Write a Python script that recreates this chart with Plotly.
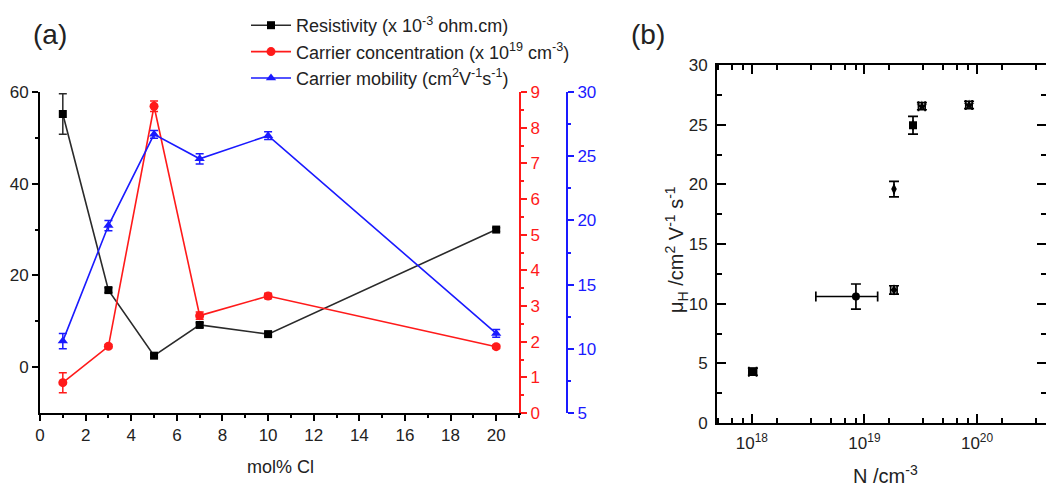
import plotly.graph_objects as go

W, H = 1046, 486

# ---------------- data: panel (a) ----------------
mol_cl = [1, 3, 5, 7, 10, 20]
resistivity = [55.2, 16.8, 2.5, 9.2, 7.2, 30.0]          # x 10^-3 ohm.cm
resistivity_err = [4.4, 0.5, 0.4, 0.5, 0.4, 0.4]
carrier_conc = [0.85, 1.87, 8.6, 2.73, 3.28, 1.86]       # x 10^19 cm^-3
carrier_conc_err = [0.28, 0.05, 0.15, 0.1, 0.08, 0.05]
mobility = [10.6, 19.6, 26.7, 24.8, 26.6, 11.2]          # cm2 V-1 s-1
mobility_err = [0.6, 0.4, 0.3, 0.4, 0.3, 0.3]

# ---------------- data: panel (b) ----------------
n_cm3 = [1.02e18, 8.4e18, 1.83e19, 1.83e19, 2.7e19, 3.24e19, 8.5e19]
n_err = [0.08e18, 4.7e18, 0.12e19, 0.0, 0.0, 0.22e19, 0.55e19]
mu_h = [4.3, 10.6, 11.15, 19.6, 24.95, 26.55, 26.65]
mu_err = [0.3, 1.05, 0.35, 0.65, 0.75, 0.3, 0.3]
b_symbols = ["square", "circle", "diamond-tall", "diamond-tall", "square", "star", "star"]

x_ticks_a = [0, 2, 4, 6, 8, 10, 12, 14, 16, 18, 20]
left_ticks = [0, 20, 40, 60]
b_major = [1e18, 1e19, 1e20]
b_major_text = ["10<sup>18</sup>", "10<sup>19</sup>", "10<sup>20</sup>"]

FONT = "Liberation Sans, Arial, sans-serif"
RED = "#ff1a1a"
BLUE = "#1a1aff"


def px_x(p):
    return p / W


def px_y(p):
    return 1 - p / H


fig = go.Figure()

fig.add_trace(go.Scatter(
    x=mol_cl, y=resistivity, name="Resistivity (x 10<sup>-3</sup> ohm.cm)",
    mode="lines+markers", xaxis="x", yaxis="y",
    line=dict(color="#2a2a2a", width=1.6),
    marker=dict(symbol="square", size=8, color="black"),
    error_y=dict(type="data", array=resistivity_err, color="#2a2a2a", thickness=1.5, width=4),
))
fig.add_trace(go.Scatter(
    x=mol_cl, y=carrier_conc, name="Carrier concentration (x 10<sup>19</sup> cm<sup>-3</sup>)",
    mode="lines+markers", xaxis="x", yaxis="y2",
    line=dict(color=RED, width=1.6),
    marker=dict(symbol="circle", size=9, color=RED),
    error_y=dict(type="data", array=carrier_conc_err, color=RED, thickness=1.5, width=4),
))
fig.add_trace(go.Scatter(
    x=mol_cl, y=mobility, name="Carrier mobility (cm<sup>2</sup>V<sup>-1</sup>s<sup>-1</sup>)",
    mode="lines+markers", xaxis="x", yaxis="y3",
    line=dict(color=BLUE, width=1.6),
    marker=dict(symbol="triangle-up", size=9, color=BLUE),
    error_y=dict(type="data", array=mobility_err, color=BLUE, thickness=1.5, width=4),
))

fig.add_trace(go.Scatter(
    x=n_cm3, y=mu_h, mode="markers", xaxis="x2", yaxis="y4", showlegend=False,
    marker=dict(symbol=b_symbols, size=8, color="black"),
    error_x=dict(type="data", array=n_err, color="black", thickness=1.7, width=5),
    error_y=dict(type="data", array=mu_err, color="black", thickness=1.7, width=5),
))

tickfont = dict(family=FONT, size=17, color="#222")

minor_log = [10 ** d * k * 10 / 6 for d in (17, 18, 19, 20) for k in (1, 2, 3, 4, 5)]


def label(text, x, y, size, angle=0):
    return dict(text=text, x=px_x(x), y=px_y(y), xref="paper", yref="paper",
                xanchor="center", yanchor="middle", textangle=angle,
                showarrow=False, font=dict(family=FONT, size=size, color="#222"))


fig.update_layout(
    template="none",
    width=W, height=H,
    margin=dict(l=0, r=0, t=0, b=0, pad=0, autoexpand=False),
    paper_bgcolor="white", plot_bgcolor="white",
    font=dict(family=FONT, size=17, color="#222"),
    showlegend=True,
    legend=dict(x=px_x(246), y=px_y(7), xanchor="left", yanchor="top",
                font=dict(family=FONT, size=18, color="#222"),
                bgcolor="rgba(0,0,0,0)", borderwidth=0, tracegroupgap=0, itemwidth=40),
    xaxis=dict(
        domain=[px_x(40), px_x(519)], range=[0, 21], anchor="y", automargin=False,
        tickmode="array", tickvals=x_ticks_a, ticks="outside", ticklen=6, tickwidth=1.5,
        tickcolor="black", showline=True, linewidth=2, linecolor="black",
        showgrid=False, zeroline=False, tickfont=tickfont,
        minor=dict(dtick=1, tick0=0, ticks="outside", ticklen=3, tickwidth=1.5, tickcolor="black", showgrid=False),
    ),
    yaxis=dict(
        domain=[px_y(413), px_y(92)], range=[-10, 60], anchor="x", automargin=False,
        tickmode="array", tickvals=left_ticks, ticks="outside", ticklen=6, tickwidth=1.5,
        tickcolor="black", showline=True, linewidth=2, linecolor="black",
        showgrid=False, zeroline=False, tickfont=tickfont,
        minor=dict(tickmode="array", tickvals=[10, 30, 50], ticks="outside", ticklen=3,
                   tickwidth=1.5, tickcolor="black", showgrid=False),
    ),
    yaxis2=dict(
        overlaying="y", side="right", anchor="x", range=[0, 9], automargin=False,
        tickmode="linear", tick0=0, dtick=1, ticks="outside", ticklen=6, tickwidth=1.5,
        tickcolor=RED, showline=True, linewidth=2, linecolor=RED,
        showgrid=False, zeroline=False, tickfont=dict(family=FONT, size=17, color=RED),
        minor=dict(dtick=0.5, tick0=0, ticks="outside", ticklen=3, tickwidth=1.5, tickcolor=RED, showgrid=False),
    ),
    yaxis3=dict(
        overlaying="y", side="right", anchor="free", position=px_x(567), range=[5, 30], automargin=False,
        tickmode="linear", tick0=5, dtick=5, ticks="outside", ticklen=6, tickwidth=1.5,
        tickcolor=BLUE, showline=True, linewidth=2, linecolor=BLUE,
        showgrid=False, zeroline=False, tickfont=dict(family=FONT, size=17, color=BLUE),
        minor=dict(dtick=2.5, tick0=5, ticks="outside", ticklen=3, tickwidth=1.5, tickcolor=BLUE, showgrid=False),
    ),
    xaxis2=dict(
        domain=[px_x(717), 1.0], type="log", range=[17.69, 20.613], anchor="y4", automargin=False,
        tickmode="array", tickvals=b_major, ticktext=b_major_text,
        ticks="inside", ticklen=9, tickwidth=1.5, tickcolor="black",
        showline=True, linewidth=2, linecolor="black", mirror="ticks",
        showgrid=False, zeroline=False, tickfont=tickfont, ticklabelstandoff=4,
        minor=dict(tickmode="array", tickvals=minor_log, ticks="inside", ticklen=5,
                   tickwidth=1.5, tickcolor="black", showgrid=False),
    ),
    yaxis4=dict(
        domain=[px_y(423), px_y(65)], range=[0, 30], anchor="x2", automargin=False,
        tickmode="linear", tick0=0, dtick=5, ticks="inside", ticklen=9, tickwidth=1.5,
        tickcolor="black", showline=True, linewidth=2, linecolor="black", mirror="ticks",
        showgrid=False, zeroline=False, tickfont=tickfont, ticklabelstandoff=4,
        minor=dict(dtick=2.5, tick0=0, ticks="inside", ticklen=5, tickwidth=1.5, tickcolor="black", showgrid=False),
    ),
    annotations=[
        label("(a)", 50, 34, 28),
        label("(b)", 648, 34, 28),
        label("mol% Cl", 280, 467, 18),
        label("N /cm<sup>-3</sup>", 885, 474, 20),
        label("μ<sub>H</sub> /cm<sup>2</sup> V<sup>-1</sup> s<sup>-1</sup>", 676, 250, 20, -90),
    ],
)

fig.write_html("out.html", config={"displayModeBar": False},
               post_script="document.body.style.margin='0';document.body.style.overflow='hidden';")
